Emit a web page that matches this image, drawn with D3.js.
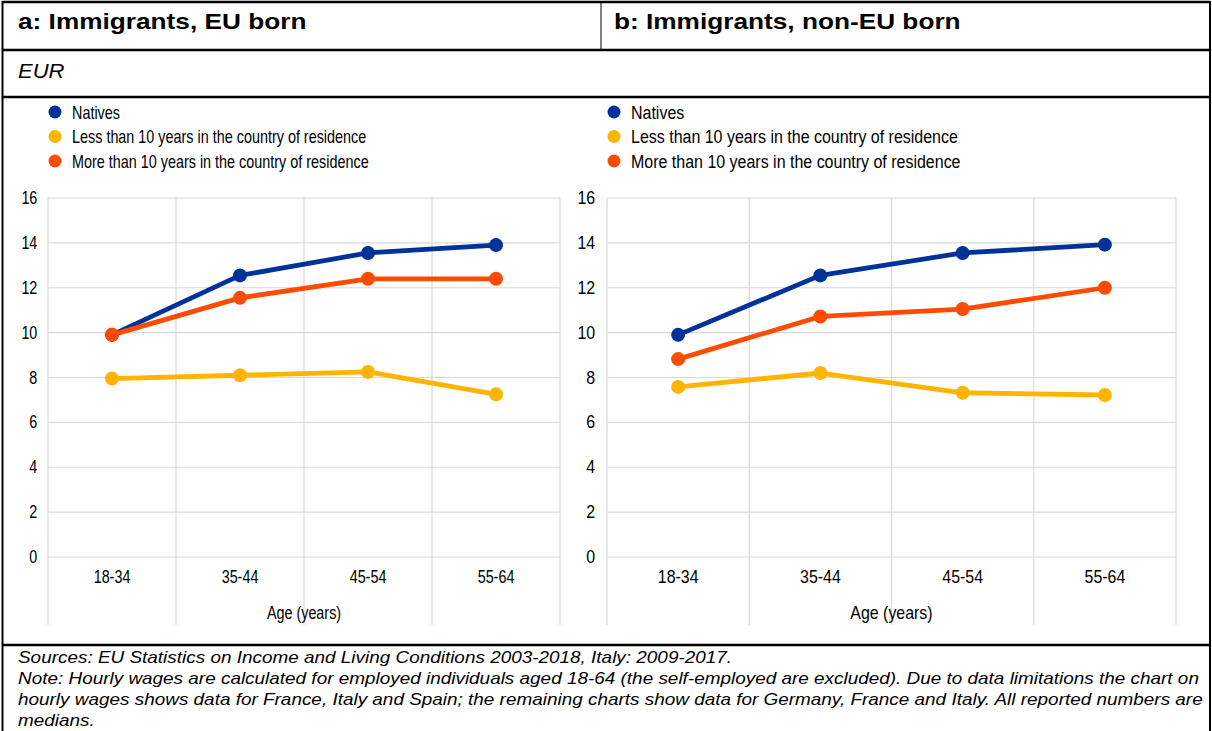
<!DOCTYPE html>
<html>
<head>
<meta charset="utf-8">
<script src="https://d3js.org/d3.v7.min.js"></script>
<style>
  body { margin: 0; background: #fff; }
  svg { display: block; }
  text { font-family: "Liberation Sans", Arial, sans-serif; fill: #000; }
  .tick text { font-size: 17.5px; }
</style>
</head>
<body>
<script>
// age groups on the x axis
var ages = ["18-34", "35-44", "45-54", "55-64"];
var seriesNames = ["Natives", "Less than 10 years in the country of residence", "More than 10 years in the country of residence"];
var colors = ["#003299", "#FFB400", "#FF4B00"];
var yTicks = [0, 2, 4, 6, 8, 10, 12, 14, 16];

// panel a: EU born
var euNatives = [9.9, 12.55, 13.55, 13.9];
var euLess = [7.95, 8.1, 8.25, 7.25];
var euMore = [9.9, 11.55, 12.4, 12.4];

// panel b: non-EU born
var nonEuNatives = [9.9, 12.55, 13.55, 13.92];
var nonEuLess = [7.58, 8.2, 7.32, 7.22];
var nonEuMore = [8.82, 10.72, 11.05, 12.0];

var W = 1212, H = 731;
var svg = d3.select("body").append("svg").attr("width", W).attr("height", H);

// frame
var rules = [[2, 2, 1210, 2], [2, 50, 1210, 50], [2, 97, 1210, 97], [2, 645, 1210, 645]];
svg.selectAll("line.rule").data(rules).enter().append("line")
  .attr("class", "rule")
  .attr("x1", function(d){ return d[0]; }).attr("y1", function(d){ return d[1]; })
  .attr("x2", function(d){ return d[2]; }).attr("y2", function(d){ return d[3]; })
  .attr("stroke", "#000").attr("stroke-width", 2.5);
svg.append("line").attr("x1", 2.5).attr("x2", 2.5).attr("y1", 1).attr("y2", H).attr("stroke", "#000").attr("stroke-width", 2);
svg.append("line").attr("x1", 1210).attr("x2", 1210).attr("y1", 1).attr("y2", H).attr("stroke", "#000").attr("stroke-width", 2);
svg.append("line").attr("x1", 601).attr("x2", 601).attr("y1", 2).attr("y2", 50).attr("stroke", "#000").attr("stroke-width", 1);

// titles
function title(x, txt) {
  svg.append("text").attr("transform", "translate(" + x + ",29) scale(1.22,1)").text(txt)
    .style("font-weight", "bold").style("font-size", "21.5px");
}
title(18, "a: Immigrants, EU born");
title(614, "b: Immigrants, non-EU born");
svg.append("text").attr("transform", "translate(18,78) scale(1.05,1)").text("EUR")
  .style("font-style", "italic").style("font-size", "21px");

var y = d3.scaleLinear().domain([0, 16]).range([557, 198]);

// sx: the second panel is drawn a little wider in the original, text included
function drawPanel(series, left, right, legendX, sx) {
  var g = svg.append("g");
  var x = d3.scaleBand().domain(ages).range([left, right]);
  var narrow = 0.82 * sx;

  // legend
  var leg = g.selectAll("g.leg").data(seriesNames).enter().append("g")
    .attr("transform", function(d, i){ return "translate(" + legendX + "," + (112 + i * 24.5) + ")"; });
  leg.append("circle").attr("r", 6.5).attr("fill", function(d, i){ return colors[i]; });
  leg.append("text").attr("transform", "translate(17,6.5) scale(" + (0.8 * sx) + ",1)")
    .style("font-size", "18px").text(function(d){ return d; });

  // grid
  g.append("g").selectAll("line").data(yTicks).enter().append("line")
    .attr("x1", left).attr("x2", right)
    .attr("y1", function(d){ return y(d); }).attr("y2", function(d){ return y(d); })
    .attr("stroke", "#d9d9d9").attr("stroke-width", 1.2);
  var edges = ages.map(function(a){ return x(a); }).concat([right]);
  g.append("g").selectAll("line").data(edges).enter().append("line")
    .attr("x1", function(d){ return d; }).attr("x2", function(d){ return d; })
    .attr("y1", y(16)).attr("y2", 625)
    .attr("stroke", "#d9d9d9").attr("stroke-width", 1.2);

  // axes
  var yAxis = d3.axisLeft(y).tickValues(yTicks).tickSize(0).tickPadding(13);
  g.append("g").attr("transform", "translate(" + left + ",0)").call(yAxis)
    .call(function(s){ s.select(".domain").remove(); })
    .selectAll("text").attr("transform", "scale(" + narrow + ",1)");
  var xAxis = d3.axisBottom(x).tickSize(0).tickPadding(14);
  g.append("g").attr("transform", "translate(0," + y(0) + ")").call(xAxis)
    .call(function(s){ s.select(".domain").remove(); })
    .selectAll("text").attr("transform", "scale(" + narrow + ",1)");
  g.append("text").attr("transform", "translate(" + ((left + right) / 2) + ",619) scale(" + narrow + ",1)")
    .attr("text-anchor", "middle").style("font-size", "17.5px").text("Age (years)");

  // lines
  var line = d3.line()
    .x(function(d, i){ return x(ages[i]) + x.bandwidth() / 2; })
    .y(function(d){ return y(d); });
  series.forEach(function(vals, k){
    g.append("path").datum(vals).attr("d", line)
      .attr("fill", "none").attr("stroke", colors[k]).attr("stroke-width", 4.8)
      .attr("stroke-linejoin", "round");
    g.selectAll(null).data(vals).enter().append("circle")
      .attr("cx", function(d, i){ return x(ages[i]) + x.bandwidth() / 2; })
      .attr("cy", function(d){ return y(d); })
      .attr("r", 7).attr("fill", colors[k]);
  });
}

drawPanel([euNatives, euLess, euMore], 48, 560, 55, 1);
drawPanel([nonEuNatives, nonEuLess, nonEuMore], 607, 1176, 614, 1.11);

// notes
var notes = [
  "Sources: EU Statistics on Income and Living Conditions 2003-2018, Italy: 2009-2017.",
  "Note: Hourly wages are calculated for employed individuals aged 18-64 (the self-employed are excluded). Due to data limitations the chart on",
  "hourly wages shows data for France, Italy and Spain; the remaining charts show data for Germany, France and Italy. All reported numbers are",
  "medians."
];
svg.selectAll("text.note").data(notes).enter().append("text")
  .attr("class", "note")
  .attr("transform", function(d, i){ return "translate(18," + (663 + i * 21) + ") scale(1.183,1)"; })
  .style("font-style", "italic").style("font-size", "16px")
  .text(function(d){ return d; });
</script>
</body>
</html>
